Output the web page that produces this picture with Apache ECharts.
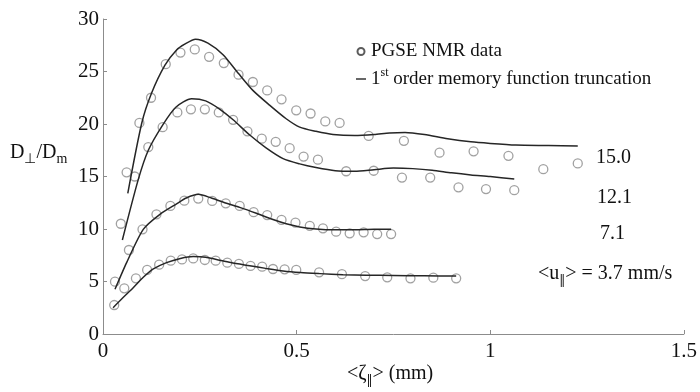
<!DOCTYPE html>
<html>
<head>
<meta charset="utf-8">
<script src="https://cdn.jsdelivr.net/npm/echarts@6/dist/echarts.min.js"></script>
<style>
  html, body { margin: 0; padding: 0; background: #fff; }
  #chart { width: 700px; height: 392px; }
</style>
</head>
<body>
<div id="chart"></div>
<script>
const FONT = '"Liberation Serif", "Times New Roman", serif';
const SYM_FONT = '"DejaVu Serif", "Liberation Serif", serif';

// Axis ticks
const xTicks = [0, 0.5, 1, 1.5];
const yTicks = [0, 5, 10, 15, 20, 25, 30];

// Mean flow velocities labelled beside each curve
const velocityLabels = ['15.0', '12.1', '7.1', '3.7'];

// PGSE NMR measurements [<zeta>, D_perp/D_m]
const pgse150 = [[0.061,15.4],[0.094,20.1],[0.124,22.5],[0.162,25.7],[0.200,26.8],[0.237,27.1],[0.274,26.4],[0.312,25.8],[0.350,24.7],[0.387,24.0],[0.424,23.2],[0.461,22.35],[0.499,21.3],[0.536,21.0],[0.574,20.25],[0.611,20.1],[0.686,18.86],[0.777,18.4],[0.869,17.27],[0.957,17.4],[1.047,16.97],[1.137,15.7],[1.226,16.25]];
const pgse121 = [[0.046,10.5],[0.082,15.0],[0.117,17.8],[0.154,19.7],[0.192,21.1],[0.227,21.4],[0.263,21.4],[0.299,21.1],[0.336,20.4],[0.373,19.3],[0.410,18.6],[0.446,18.3],[0.482,17.7],[0.518,16.9],[0.555,16.6],[0.628,15.5],[0.699,15.55],[0.772,14.9],[0.845,14.9],[0.918,13.97],[0.989,13.8],[1.062,13.7]];
const pgse71 = [[0.031,4.98],[0.067,8.0],[0.102,9.97],[0.138,11.4],[0.174,12.2],[0.210,12.7],[0.246,12.9],[0.282,12.67],[0.317,12.45],[0.353,12.2],[0.389,11.6],[0.424,11.33],[0.461,10.86],[0.497,10.6],[0.534,10.3],[0.568,10.06],[0.602,9.75],[0.637,9.59],[0.673,9.68],[0.708,9.52],[0.744,9.52]];
const pgse37 = [[0.029,2.76],[0.055,4.35],[0.085,5.3],[0.114,6.1],[0.145,6.6],[0.175,6.98],[0.204,7.1],[0.233,7.2],[0.263,7.05],[0.291,6.98],[0.321,6.79],[0.351,6.67],[0.381,6.48],[0.411,6.41],[0.439,6.19],[0.469,6.16],[0.499,6.1],[0.558,5.87],[0.617,5.7],[0.677,5.52],[0.734,5.4],[0.794,5.3],[0.853,5.36],[0.912,5.3]];

// First order memory function truncation model
const model150 = [[0.064,13.4],[0.100,20.07],[0.125,22.9],[0.160,25.6],[0.190,27.05],[0.211,27.6],[0.239,28.07],[0.271,27.7],[0.310,26.6],[0.350,24.8],[0.387,23.2],[0.430,21.8],[0.473,20.5],[0.508,19.7],[0.550,19.3],[0.594,19.0],[0.650,18.9],[0.700,19.0],[0.740,19.15],[0.780,19.2],[0.830,19.0],[0.890,18.6],[0.950,18.3],[1.000,18.15],[1.066,18.0],[1.150,17.95],[1.226,17.9]];
const model121 = [[0.050,8.95],[0.091,14.7],[0.117,17.5],[0.154,19.9],[0.188,21.6],[0.229,22.4],[0.265,22.2],[0.302,21.4],[0.336,20.4],[0.379,18.95],[0.422,17.7],[0.465,16.7],[0.508,16.2],[0.550,15.85],[0.600,15.55],[0.650,15.5],[0.700,15.65],[0.750,15.8],[0.800,15.75],[0.850,15.6],[0.900,15.35],[0.950,15.15],[1.000,15.0],[1.062,14.76]];
const model71 = [[0.031,4.26],[0.061,6.8],[0.104,9.97],[0.147,11.4],[0.190,12.4],[0.215,12.95],[0.246,13.3],[0.280,12.95],[0.319,12.45],[0.353,12.06],[0.396,11.5],[0.439,10.9],[0.473,10.5],[0.508,10.2],[0.550,10.0],[0.600,9.92],[0.650,9.92],[0.700,9.97],[0.744,9.97]];
const model37 = [[0.026,2.5],[0.050,3.4],[0.078,4.4],[0.104,5.4],[0.130,6.2],[0.164,6.8],[0.200,7.2],[0.233,7.38],[0.265,7.32],[0.293,7.1],[0.330,6.8],[0.379,6.5],[0.420,6.25],[0.465,6.0],[0.510,5.85],[0.560,5.75],[0.620,5.65],[0.680,5.6],[0.750,5.57],[0.830,5.54],[0.912,5.52]];

const DATA_NAME = 'PGSE NMR data';
const MODEL_NAME = '1st order memory function truncation';

const pointSets = [pgse150, pgse121, pgse71, pgse37];
const modelSets = [model150, model121, model71, model37];

const scatterSeries = pointSets.map(d => ({
  name: DATA_NAME,
  type: 'scatter',
  data: d,
  symbol: 'circle',
  symbolSize: 9,
  itemStyle: { color: 'rgba(255,255,255,0)', borderColor: '#8a8a8a', borderWidth: 1.3 },
  z: 2
}));

const lineSeries = modelSets.map(d => ({
  name: MODEL_NAME,
  type: 'line',
  data: d,
  symbol: 'none',
  smooth: 0.25,
  lineStyle: { color: '#262626', width: 1.5 },
  itemStyle: { color: '#262626' },
  z: 3
}));

const chart = echarts.init(document.getElementById('chart'), null, { renderer: 'canvas' });

const txt = { fontFamily: FONT, fontSize: 20, fill: '#111' };

chart.setOption({
  backgroundColor: '#fff',
  animation: false,
  grid: { left: 103, right: 15, top: 19, bottom: 58, containLabel: false },
  xAxis: {
    type: 'value', min: xTicks[0], max: xTicks[xTicks.length - 1], interval: 0.5,
    axisLine: { lineStyle: { color: '#8c8c8c', width: 1 } },
    axisTick: { inside: true, length: 4, lineStyle: { color: '#8c8c8c' } },
    axisLabel: { fontFamily: FONT, fontSize: 21, color: '#111', margin: 7 },
    splitLine: { show: false }
  },
  yAxis: {
    type: 'value', min: yTicks[0], max: yTicks[yTicks.length - 1], interval: 5,
    axisLine: { show: true, lineStyle: { color: '#8c8c8c', width: 1 } },
    axisTick: { show: true, inside: true, length: 4, lineStyle: { color: '#8c8c8c' } },
    axisLabel: { fontFamily: FONT, fontSize: 21, color: '#111', margin: 4 },
    splitLine: { show: false }
  },
  legend: {
    orient: 'vertical', left: 351, top: 37, itemGap: 6,
    itemWidth: 10, itemHeight: 7,
    textStyle: {
      fontFamily: FONT, fontSize: 19, color: '#111',
      rich: {
        n: { fontFamily: FONT, fontSize: 19, color: '#111' },
        sup: { fontFamily: FONT, fontSize: 12, color: '#111', padding: [0, 0, 12, 0] }
      }
    },
    formatter: name => name === MODEL_NAME ? '{n|1}{sup|st}{n| order memory function truncation}' : '{n|' + name + '}',
    data: [
      { name: DATA_NAME, icon: 'emptyCircle', itemStyle: { color: '#333', borderColor: '#333', borderWidth: 1.2 } },
      { name: MODEL_NAME, icon: 'path://M0,0L10,0L10,1.4L0,1.4Z', itemStyle: { color: '#262626' } }
    ]
  },
  graphic: [
    { type: 'text', left: 596, top: 148, style: Object.assign({ text: velocityLabels[0] }, txt) },
    { type: 'text', left: 597, top: 188, style: Object.assign({ text: velocityLabels[1] }, txt) },
    { type: 'text', left: 600, top: 224, style: Object.assign({ text: velocityLabels[2] }, txt) },
    { type: 'text', left: 538, top: 264, style: {
        text: '<u{s|‖}> = ' + velocityLabels[3] + ' mm/s', fontFamily: FONT, fontSize: 20, fill: '#111',
        rich: { s: { fontFamily: SYM_FONT, fontSize: 12, fill: '#111', padding: [14, 0, 0, 0] } }
    } },
    { type: 'text', left: 10, top: 143, style: {
        text: 'D{s|⊥}/D{s|m}', fontFamily: FONT, fontSize: 20, fill: '#111',
        rich: { s: { fontFamily: FONT, fontSize: 14, fill: '#111', padding: [12, 0, 0, 0] } }
    } },
    { type: 'text', left: 347, top: 364, style: {
        text: '<ζ{s|‖}> (mm)', fontFamily: FONT, fontSize: 20, fill: '#111',
        rich: { s: { fontFamily: SYM_FONT, fontSize: 12, fill: '#111', padding: [14, 0, 0, 0] } }
    } }
  ],
  series: scatterSeries.concat(lineSeries)
});
</script>
</body>
</html>
